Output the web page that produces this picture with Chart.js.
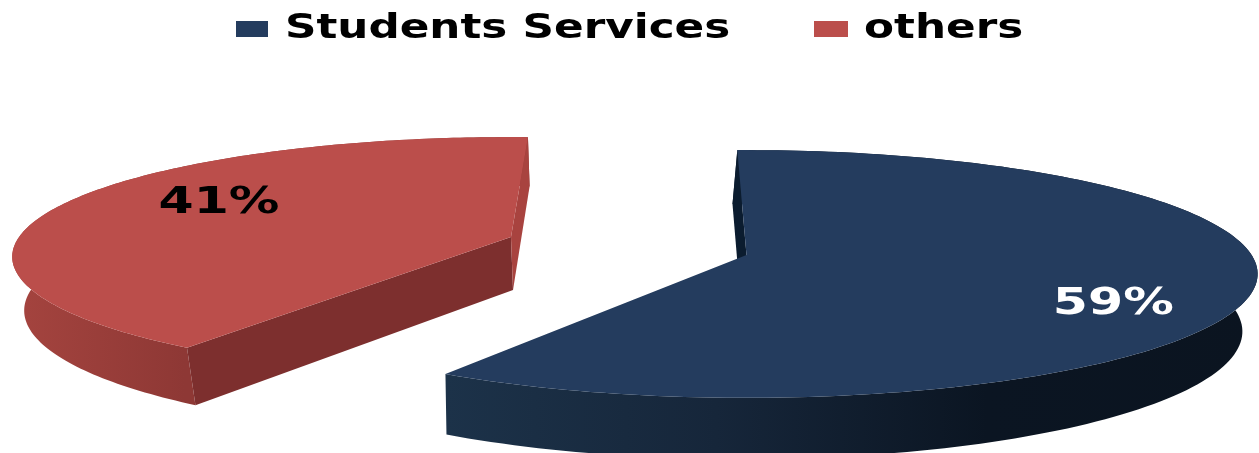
<!DOCTYPE html>
<html>
<head>
<meta charset="utf-8">
<title>Students Services</title>
<script src="https://cdn.jsdelivr.net/npm/chart.js@4"></script>
<style>
    html, body { margin: 0; padding: 0; background: #fff; overflow: hidden; }
    canvas { display: block; filter: blur(0.6px); }
</style>
</head>
<body>
<canvas id="pieChart" width="1259" height="453"></canvas>
<script>
// Chart data
const categories = ['Students Services', 'others'];
const shares = [59, 41];

// Colours per slice
const topColors = ['#243c5e', '#bb4e4b'];
const rimColors = [['#1c3249', '#16263a', '#0b1522', '#0b1420'], ['#a5443f', '#8e3835', '#8e3835', '#8e3835']];
const startWallColors = ['#0b1c2f', '#7d2f2e'];
const endWallColors = [null, '#a8433f'];
const labelColors = ['#ffffff', '#000000'];

// How each slice is tilted and pulled out of the pie (fractions of the pie radius)
const sliceViews = [
    { ox: 117, oy: 28.5, sx: 2.23, sy: 0.534, k: 0.153, turn: 0, backX: 0.98, backY: 1.03, shiftX: -5, depth: 57, labelTurn: 12.7, labelR: 0.775 },
    { ox: -118.5, oy: 10.5, sx: 2.172, sy: 0.514, k: 0.165, turn: 3.5, backX: 0.98, backY: 1.04, shiftX: 2, depth: 53, labelTurn: 9.6, labelR: 0.71 }
];

// Legend layout
const legendBoxes = [[236, 32], [814, 34]];
const legendTextX = [285, 864];
const TEXT_STRETCH = 1.285;
const LABEL_STRETCH = 1.33;

function project(arc, view, angle, r, lower) {
    const u = r * Math.cos(angle);
    const v = r * Math.sin(angle);
    const w = 1 - view.k * v;
    let x = view.sx * arc.outerRadius * u / w;
    let y = view.sy * arc.outerRadius * v / w;
    if (lower) {
        x = x * view.backX + view.shiftX;
        y = y * view.backY + view.depth;
    }
    return { x: arc.x + view.ox + x, y: arc.y + view.oy + y };
}

function fillPoly(ctx, points, fill) {
    ctx.beginPath();
    points.forEach((p, i) => i ? ctx.lineTo(p.x, p.y) : ctx.moveTo(p.x, p.y));
    ctx.closePath();
    ctx.fillStyle = fill;
    ctx.fill();
}

function arcPoints(arc, view, lower) {
    const turn = view.turn * Math.PI / 180;
    const pts = [];
    const steps = 160;
    for (let i = 0; i <= steps; i++) {
        const a = arc.startAngle + (arc.endAngle - arc.startAngle) * i / steps + turn;
        pts.push(project(arc, view, a, 1, lower));
    }
    return pts;
}

function drawSlice(ctx, arc, view, i) {
    const top = arcPoints(arc, view, false);
    const low = arcPoints(arc, view, true);
    const apex = project(arc, view, 0, 0, false);
    const apexLow = project(arc, view, 0, 0, true);

    // outer rim, shaded left to right
    const xs = top.map(p => p.x);
    const grad = ctx.createLinearGradient(Math.min(...xs), 0, Math.max(...xs), 0);
    rimColors[i].forEach((c, n) => grad.addColorStop(n / (rimColors[i].length - 1), c));
    fillPoly(ctx, top.concat(low.slice().reverse()), grad);

    // the two cut faces
    const n = top.length - 1;
    if (startWallColors[i]) fillPoly(ctx, [apex, top[0], low[0], apexLow], startWallColors[i]);
    if (endWallColors[i]) fillPoly(ctx, [apex, top[n], low[n], apexLow], endWallColors[i]);

    // top face
    fillPoly(ctx, [apex].concat(top), topColors[i]);
}

function stretchedText(ctx, text, x, y, size, stretch, color, align) {
    ctx.save();
    ctx.translate(x, y);
    ctx.scale(stretch, 1);
    ctx.font = 'bold ' + size + 'px "DejaVu Sans"';
    ctx.textAlign = align;
    ctx.textBaseline = 'middle';
    ctx.fillStyle = color;
    ctx.fillText(text, 0, 0);
    ctx.restore();
}

// Draws the slices as tilted 3D wedges from the arcs Chart.js has laid out
const tiltedPie = {
    id: 'tiltedPie',
    beforeDatasetDraw(chart, args) {
        const ctx = chart.ctx;
        const arcs = chart.getDatasetMeta(args.index).data;
        arcs.forEach((arc, i) => drawSlice(ctx, arc, sliceViews[i], i));
        arcs.forEach((arc, i) => {
            const view = sliceViews[i];
            const mid = (arc.startAngle + arc.endAngle) / 2 + (view.turn + view.labelTurn) * Math.PI / 180;
            const p = project(arc, view, mid, view.labelR, false);
            stretchedText(ctx, shares[i] + '%', p.x, p.y + 3, 38, LABEL_STRETCH, labelColors[i], 'center');
        });
        return false;
    },
    afterDraw(chart) {
        const ctx = chart.ctx;
        categories.forEach((name, i) => {
            ctx.fillStyle = topColors[i];
            ctx.fillRect(legendBoxes[i][0], 21, legendBoxes[i][1], 16);
            stretchedText(ctx, name, legendTextX[i], 29, 34, TEXT_STRETCH, '#000000', 'left');
        });
    }
};

new Chart(document.getElementById('pieChart').getContext('2d'), {
    type: 'pie',
    data: {
        labels: categories,
        datasets: [{ data: shares, backgroundColor: topColors, borderWidth: 0 }]
    },
    options: {
        responsive: false,
        animation: false,
        rotation: -1.2,
        plugins: {
            legend: { display: false },
            tooltip: { enabled: false }
        }
    },
    plugins: [tiltedPie]
});
</script>
</body>
</html>
